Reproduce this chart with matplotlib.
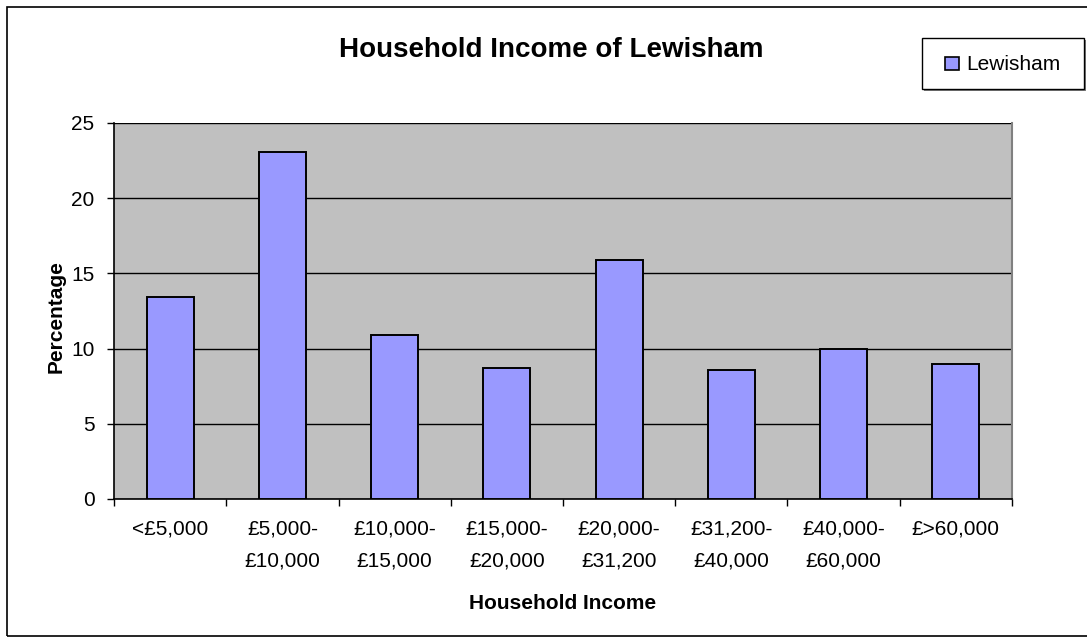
"""Household income distribution for Lewisham, Excel-style bar chart."""

import numpy as np
import matplotlib.pyplot as plt
from matplotlib.patches import Rectangle

plt.rcParams['font.family'] = ['Liberation Sans', 'DejaVu Sans']

categories = ['<£5,000', '£5,000-\n£10,000', '£10,000-\n£15,000', '£15,000-\n£20,000',
              '£20,000-\n£31,200', '£31,200-\n£40,000', '£40,000-\n£60,000', '£>60,000']
lewisham = [13.4, 23.1, 10.9, 8.7, 15.9, 8.6, 10.0, 9.0]

W, H = 1087, 642
fig = plt.figure(figsize=(W / 100, H / 100), dpi=100)
ax = fig.add_axes([114 / W, 1 - 499 / H, 898 / W, 376 / H])
ax.set_facecolor('#C0C0C0')

bar_color = '#9999FF'
x = np.arange(len(categories))
ax.bar(x, lewisham, width=0.42, color=bar_color, edgecolor='black',
       linewidth=1.4, zorder=3)

ax.set_xlim(-0.5, len(categories) - 0.5)
ax.set_ylim(0, 25)
ax.set_yticks(range(0, 26, 5))
ax.yaxis.grid(True, color='black', linewidth=1.0, zorder=1)
ax.set_axisbelow(True)

# ticks on category boundaries, labels centred under bars
ax.set_xticks(np.arange(len(categories) + 1) - 0.5)
ax.set_xticklabels([])
ax.set_xticks(x, minor=True)
ax.set_xticklabels(categories, minor=True, fontsize=15, linespacing=1.86)
ax.tick_params(axis='x', which='minor', length=0, pad=15)
ax.tick_params(axis='x', which='major', length=5, width=1, color='black', direction='out')
ax.tick_params(axis='y', length=5, width=1, direction='out', labelsize=15, pad=9)

for side in ['left', 'bottom']:
    ax.spines[side].set_color('black')
    ax.spines[side].set_linewidth(1.2)
ax.spines['top'].set_visible(False)
ax.spines['right'].set_color('#808080')
ax.spines['right'].set_linewidth(1.5)

ax.set_xlabel('Household Income', fontsize=15, fontweight='bold')
ax.xaxis.set_label_coords(0.5, -0.2527)
ax.set_ylabel('Percentage', fontsize=15, fontweight='bold')
ax.yaxis.set_label_coords(-0.0535, 0.484)

fig.text(551.5 / W, 1 - 57.3 / H, 'Household Income of Lewisham', ha='center',
         va='baseline', fontsize=20, fontweight='bold')

# legend box, drawn the Excel way
px = fig.transFigure.inverted()
def fx(p):
    return p / W
def fy(p):
    return 1 - p / H
fig.patches.append(Rectangle((fx(924), fy(91)), 162 / W, 51 / H, transform=fig.transFigure,
                             facecolor='#808080', edgecolor='none', zorder=1))
fig.patches.append(Rectangle((fx(922), fy(89)), 162 / W, 51 / H, transform=fig.transFigure,
                             facecolor='white', edgecolor='black', linewidth=1.0, zorder=2))
fig.patches.append(Rectangle((fx(945), fy(70)), 14 / W, 13 / H, transform=fig.transFigure,
                             facecolor=bar_color, edgecolor='black', linewidth=1.2, zorder=3))
fig.text(fx(966), fy(69.5), 'Lewisham', ha='left', va='baseline', fontsize=15, zorder=4)

# chart area border (right side falls just outside the image)
fig.patches.append(Rectangle((fx(7), fy(636)), (1095 - 7) / W, (636 - 7) / H,
                             transform=fig.transFigure, fill=False,
                             edgecolor='black', linewidth=1.2))

fig.savefig('out.png', dpi=100)
